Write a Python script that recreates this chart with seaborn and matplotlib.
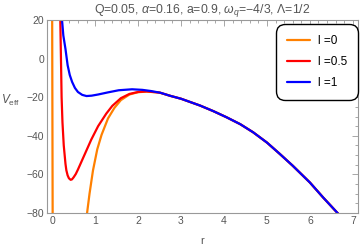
import numpy as np
import pandas as pd
import matplotlib
matplotlib.use('Agg')
import matplotlib.pyplot as plt
from matplotlib.ticker import MultipleLocator
import seaborn as sns

sns.set_style('white')
plt.rcParams['font.family'] = ['Liberation Sans', 'DejaVu Sans']
plt.rcParams['mathtext.fontset'] = 'custom'
plt.rcParams['mathtext.rm'] = 'Liberation Sans'
plt.rcParams['mathtext.it'] = 'Liberation Sans:italic'

# values
# shared large-r tail (all three curves coincide there)
r_tail = [2.75, 3.0, 3.44, 3.75, 4.06, 4.38, 4.68, 5.0, 5.3, 5.6, 6.0, 6.31, 6.66, 6.75]
V_tail = [-19.3, -20.8, -24.3, -27.2, -30.4, -34.0, -38.2, -43.5, -49.4, -55.5, -64.2, -72.0, -80.4, -83.0]

# l = 0 : pole branch near r = 0 and the outer branch
r_l0_pole = [0.0, 0.012]
V_l0_pole = [25.0, -85.0]
r_l0 = [0.78, 0.81, 0.87, 0.95, 1.05, 1.15, 1.30, 1.45, 1.60, 1.80, 2.00, 2.20, 2.50]
V_l0 = [-88.0, -80.5, -70.0, -58.0, -47.0, -39.5, -31.0, -25.5, -21.5, -18.6, -17.4, -17.1, -17.6]

# l = 0.5
r_l05 = [0.18, 0.19, 0.205, 0.22, 0.24, 0.27, 0.31, 0.33, 0.36, 0.39, 0.43, 0.46, 0.50, 0.55,
         0.60, 0.68, 0.76, 0.91, 1.07, 1.26, 1.40, 1.60, 1.80, 2.00, 2.20, 2.50]
V_l05 = [25.0, 20.0, 0.0, -20.0, -33.0, -45.0, -54.5, -57.8, -60.5, -62.0, -62.8, -62.6, -61.5, -59.8,
         -57.5, -53.5, -49.5, -42.0, -35.0, -28.5, -24.5, -20.5, -18.3, -17.3, -17.0, -17.6]

# l = 1
r_l1 = [0.22, 0.23, 0.26, 0.31, 0.36, 0.41, 0.465, 0.53, 0.60, 0.70, 0.80, 0.92, 1.07,
        1.30, 1.55, 1.86, 2.10, 2.30, 2.52]
V_l1 = [26.0, 20.0, 12.0, 5.0, -3.4, -8.5, -12.1, -15.2, -17.3, -18.8, -19.4, -19.2, -18.6,
        -17.5, -16.4, -15.9, -16.2, -16.8, -17.7]

labels = ['l =0', 'l =0.5', 'l =1']
colors = ['#FF8000', '#FF0000', '#0000FF']

parts = [
    (labels[0], 'a', r_l0_pole, V_l0_pole),
    (labels[0], 'b', r_l0 + r_tail, V_l0 + V_tail),
    (labels[1], 'c', r_l05 + r_tail, V_l05 + V_tail),
    (labels[2], 'd', r_l1 + r_tail, V_l1 + V_tail),
]
rows = []
for lab, seg, rr, vv in parts:
    for x, y in zip(rr, vv):
        rows.append((lab, seg, x, y))
df = pd.DataFrame(rows, columns=['l', 'seg', 'r', 'V'])

fig = plt.figure(figsize=(3.6, 2.5), dpi=100)
ax = fig.add_axes([47 / 360, 1 - 213 / 250, 311 / 360, 193 / 250])

sns.lineplot(data=df, x='r', y='V', hue='l', units='seg', estimator=None, sort=False,
             palette=dict(zip(labels, colors)), hue_order=labels, linewidth=1.6, ax=ax)

ax.set_xlim(-0.12, 7.12)
ax.set_ylim(-80, 20)

gray = '#555555'
for s in ax.spines.values():
    s.set_color('#999999')
    s.set_linewidth(0.8)
ax.xaxis.set_major_locator(MultipleLocator(1))
ax.xaxis.set_minor_locator(MultipleLocator(0.2))
ax.yaxis.set_major_locator(MultipleLocator(20))
ax.yaxis.set_minor_locator(MultipleLocator(5))
ax.tick_params(which='both', direction='in', top=True, right=True, color='#999999',
               labelcolor=gray, labelsize=7.5, width=0.6, pad=2)
ax.tick_params(which='major', length=4)
ax.tick_params(which='minor', length=2)
ax.set_xticks(range(0, 8))
ax.set_xticklabels([str(t) for t in range(0, 8)])
ax.set_yticks(range(-80, 21, 20))
ax.set_yticklabels([str(t).replace('-', '\u2212') for t in range(-80, 21, 20)])

ax.set_xlabel('r', color=gray, fontsize=8)
ax.xaxis.set_label_coords(0.5, -0.145)
ax.xaxis.label.set_va('center')
ax.set_ylabel(r'$V_{\rm eff}$', color=gray, fontsize=8.5, rotation=0, va='center', ha='center')
ax.yaxis.set_label_coords(-0.116, 0.585)
ax.set_title(r'Q=0.05, $\alpha$=0.16, a=0.9, $\omega_q$=$-$4/3, $\Lambda$=1/2',
             color=gray, fontsize=8.8, pad=5)

leg = ax.legend(loc='upper right', bbox_to_anchor=(0.988, 0.958), fontsize=8.5,
                frameon=True, fancybox=True, framealpha=1, edgecolor='black',
                handlelength=1.9, handletextpad=0.7, labelspacing=0.75,
                borderpad=0.6, borderaxespad=0)
leg.get_frame().set_linewidth(1.0)
leg.get_frame().set_boxstyle('round', pad=0.35, rounding_size=0.8)
for t in leg.get_texts():
    t.set_color('black')
for h in leg.get_lines():
    h.set_linewidth(1.6)

fig.savefig('out.png', dpi=100)
